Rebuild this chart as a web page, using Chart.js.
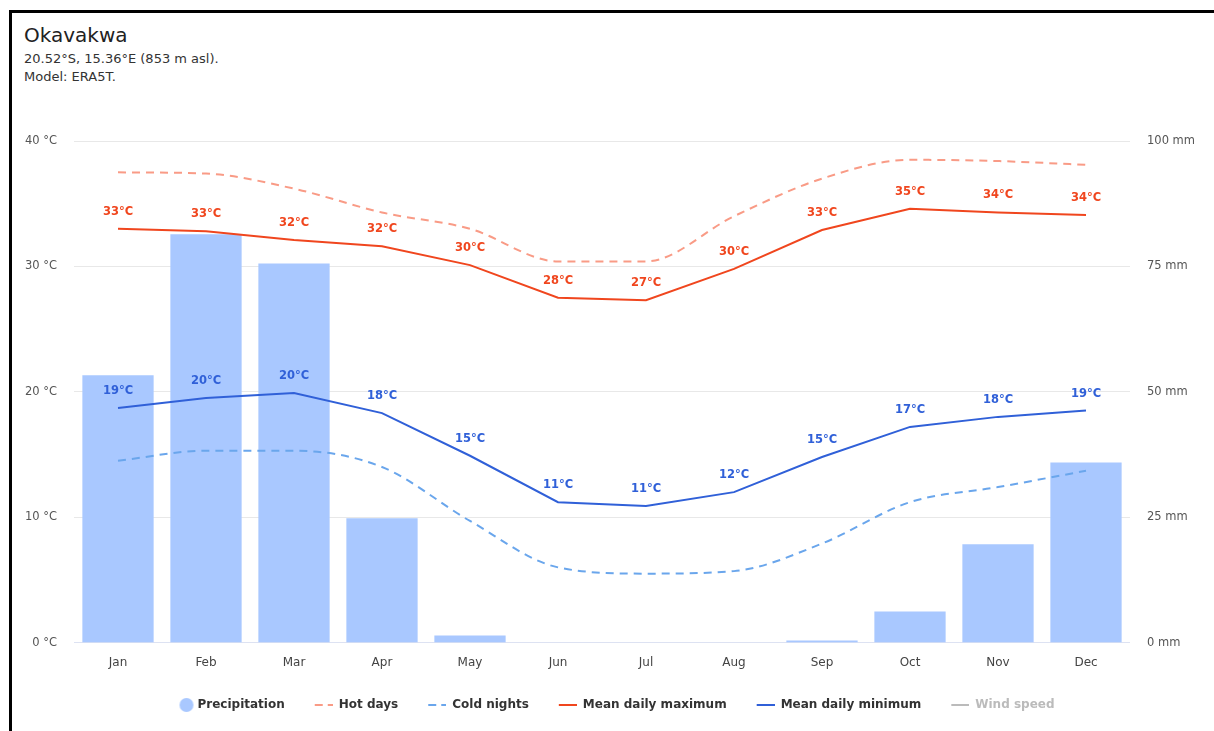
<!DOCTYPE html>
<html>
<head>
<meta charset="utf-8">
<script src="https://cdn.jsdelivr.net/npm/chart.js"></script>
<style>
  body { margin: 0; background: #fff; width: 1214px; height: 731px; overflow: hidden; position: relative; font-family: "DejaVu Sans", sans-serif; }
  .frame { position: absolute; left: 9px; top: 10px; width: 1400px; height: 900px; border-left: 3px solid #000; border-top: 3px solid #000; }
  .head { position: absolute; left: 24px; top: 22px; color: #222; }
  .head h1 { margin: 0 0 2px; font-size: 20px; font-weight: normal; line-height: 26px; }
  .head p { margin: 0; font-size: 13px; line-height: 18px; color: #333; }
  #chart { position: absolute; left: 0; top: 0; }
</style>
</head>
<body>
<div class="frame"></div>
<div class="head">
  <h1>Okavakwa</h1>
  <p>20.52°S, 15.36°E (853 m asl).</p>
  <p>Model: ERA5T.</p>
</div>
<canvas id="chart" width="1214" height="731"></canvas>
<script>
const months = ['Jan', 'Feb', 'Mar', 'Apr', 'May', 'Jun', 'Jul', 'Aug', 'Sep', 'Oct', 'Nov', 'Dec'];
const precipitation = [53.3, 81.4, 75.6, 24.8, 1.4, 0, 0, 0, 0.4, 6.2, 19.6, 35.9];
const hotDays = [37.5, 37.4, 36.2, 34.3, 33.0, 30.4, 30.4, 34.0, 37.0, 38.5, 38.4, 38.1];
const coldNights = [14.5, 15.3, 15.3, 14.0, 9.7, 6.0, 5.5, 5.7, 7.9, 11.2, 12.4, 13.7];
const meanMax = [33.0, 32.8, 32.1, 31.6, 30.1, 27.5, 27.3, 29.8, 32.9, 34.6, 34.3, 34.1];
const meanMin = [18.7, 19.5, 19.9, 18.3, 14.9, 11.2, 10.9, 12.0, 14.8, 17.2, 18.0, 18.5];
const windSpeed = [];
const tempTicks = [0, 10, 20, 30, 40];
const rainTicks = [0, 25, 50, 75, 100];

const RED = '#f0461e', BLUE = '#3060d8', SALMON = '#f99b86', SKY = '#6aa6ec', BAR = '#a9c8ff', GREY = '#bbbbbb';
const BOX = 32; // legend box width

// legend markers, the visible mark sits at the right end of the box
function marker(color, dash, circle) {
  const c = document.createElement('canvas');
  c.width = circle ? BOX * 2 : BOX; c.height = 16;
  const g = c.getContext('2d');
  if (circle) {
    g.fillStyle = color;
    g.beginPath(); g.arc(BOX + 11, 8, 7, 0, Math.PI * 2); g.fill();
  } else {
    g.strokeStyle = color; g.lineWidth = 2;
    g.setLineDash(dash || []);
    g.beginPath(); g.moveTo(BOX - 18, 8); g.lineTo(BOX, 8); g.stroke();
  }
  return c;
}

const valueLabels = {
  id: 'valueLabels',
  afterDatasetsDraw(chart) {
    const ctx = chart.ctx;
    chart.data.datasets.forEach((ds, i) => {
      if (!ds.showValues) return;
      const meta = chart.getDatasetMeta(i);
      ctx.save();
      ctx.font = 'bold 11.5px "DejaVu Sans"';
      ctx.fillStyle = ds.borderColor;
      ctx.textAlign = 'center';
      ctx.textBaseline = 'middle';
      meta.data.forEach((pt, j) => {
        ctx.fillText(Math.round(ds.data[j]) + '°C', pt.x, pt.y - 17);
      });
      ctx.restore();
    });
  }
};

new Chart(document.getElementById('chart'), {
  data: {
    labels: months,
    datasets: [
      { type: 'bar', label: 'Precipitation', data: precipitation, yAxisID: 'yRain',
        backgroundColor: BAR, categoryPercentage: 0.9, barPercentage: 0.9, order: 10,
        legendMarker: marker(BAR, null, true) },
      { type: 'line', label: 'Hot days', data: hotDays, yAxisID: 'yTemp', borderColor: SALMON,
        borderWidth: 2, borderDash: [8, 6], pointRadius: 0, cubicInterpolationMode: 'monotone',
        legendMarker: marker(SALMON, [8, 5]) },
      { type: 'line', label: 'Cold nights', data: coldNights, yAxisID: 'yTemp', borderColor: SKY,
        borderWidth: 2, borderDash: [8, 6], pointRadius: 0, cubicInterpolationMode: 'monotone',
        legendMarker: marker(SKY, [8, 5]) },
      { type: 'line', label: 'Mean daily maximum', data: meanMax, yAxisID: 'yTemp', borderColor: RED,
        borderWidth: 2, pointRadius: 0, tension: 0, showValues: true,
        legendMarker: marker(RED) },
      { type: 'line', label: 'Mean daily minimum', data: meanMin, yAxisID: 'yTemp', borderColor: BLUE,
        borderWidth: 2, pointRadius: 0, tension: 0, showValues: true,
        legendMarker: marker(BLUE) },
      { type: 'line', label: 'Wind speed', data: windSpeed, yAxisID: 'yTemp', borderColor: GREY,
        borderWidth: 2, pointRadius: 0,
        legendMarker: marker(GREY) }
    ]
  },
  options: {
    responsive: false,
    animation: false,
    layout: { padding: { top: 141, bottom: 10, left: 0, right: 0 } },
    plugins: {
      tooltip: { enabled: false },
      legend: {
        position: 'bottom',
        labels: {
          usePointStyle: true,
          pointStyleWidth: BOX,
          boxHeight: 12,
          padding: 16,
          color: '#333',
          font: { family: 'DejaVu Sans', size: 12, weight: 'bold' },
          sort: (a, b) => a.datasetIndex - b.datasetIndex,
          generateLabels(chart) {
            return chart.data.datasets.map((ds, i) => ({
              text: ds.label,
              datasetIndex: i,
              pointStyle: ds.legendMarker,
              fillStyle: 'transparent',
              strokeStyle: 'transparent',
              lineWidth: 0,
              hidden: false,
              fontColor: ds.label === 'Wind speed' ? GREY : '#333'
            }));
          }
        }
      }
    },
    scales: {
      x: {
        grid: { display: false, drawTicks: false },
        border: { display: false },
        ticks: { color: '#444', padding: 13, font: { family: 'DejaVu Sans', size: 12 } }
      },
      yTemp: {
        position: 'left',
        min: 0, max: 40,
        afterFit: s => { s.width = 74; },
        afterBuildTicks: s => { s.ticks = tempTicks.map(v => ({ value: v })); },
        grid: { drawTicks: false, color: c => c.tick.value === 0 ? '#dde2f2' : '#e8e8e8' },
        border: { display: false },
        ticks: { padding: 17, color: '#555', font: { family: 'DejaVu Sans', size: 11.5 }, callback: v => v + ' °C' }
      },
      yRain: {
        position: 'right',
        min: 0, max: 100,
        afterFit: s => { s.width = 84; },
        afterBuildTicks: s => { s.ticks = rainTicks.map(v => ({ value: v })); },
        grid: { display: false, drawTicks: false },
        border: { display: false },
        ticks: { padding: 17, color: '#555', font: { family: 'DejaVu Sans', size: 11.5 }, callback: v => v + ' mm' }
      }
    }
  },
  plugins: [valueLabels]
});
</script>
</body>
</html>
